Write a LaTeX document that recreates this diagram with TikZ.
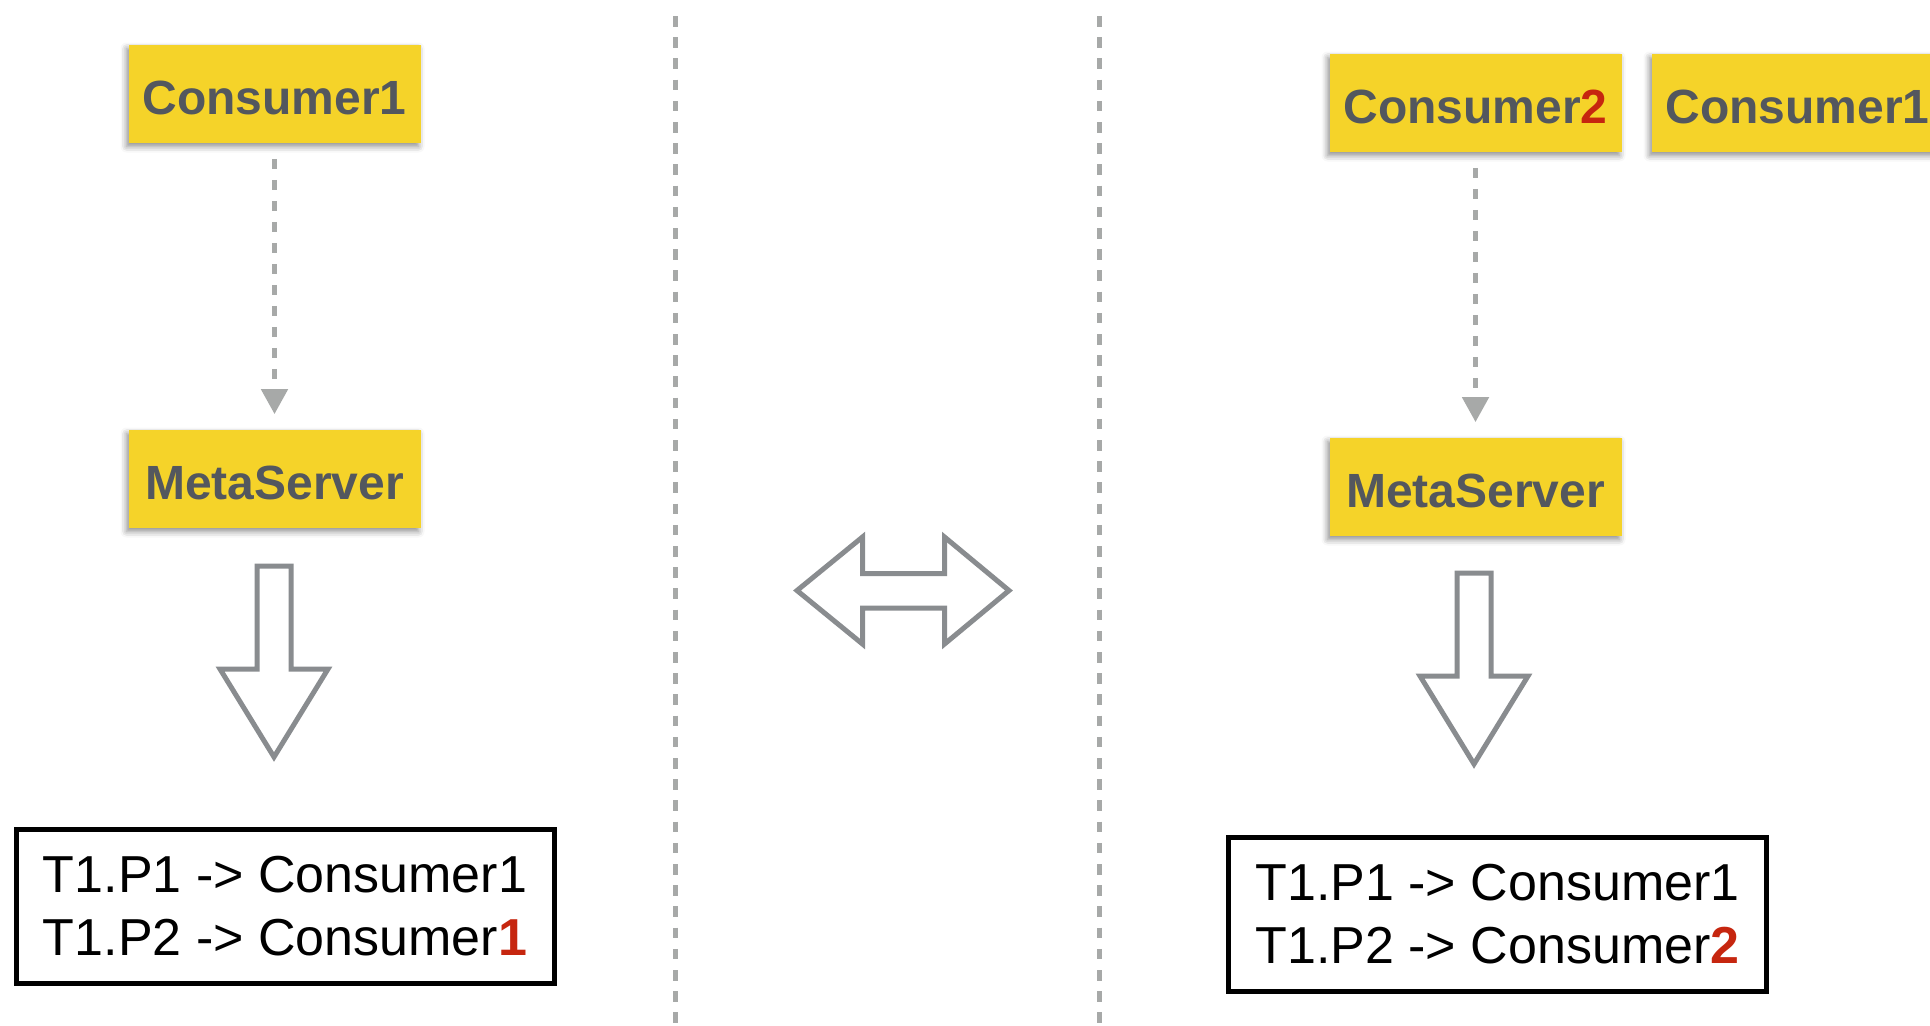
\documentclass[tikz,border=0pt]{standalone}
\usepackage{fontspec}
\setmainfont{Liberation Sans}
\usetikzlibrary{arrows.meta,shadows.blur}

\definecolor{boxyellow}{HTML}{F5D329}
\definecolor{labelgray}{HTML}{53575E}
\definecolor{accent}{HTML}{C6260F}
\definecolor{outlinegray}{HTML}{898C8F}
\definecolor{dashgray}{HTML}{A7A9A8}

\tikzset{
  ybox/.style={fill=boxyellow, minimum width=146pt, minimum height=49pt,
    inner sep=0pt, text=labelgray, text height=21pt, text depth=0pt,
    font=\bfseries\fontsize{24}{28}\selectfont,
    blur shadow={shadow xshift=-1pt, shadow yshift=-2pt,
      shadow blur radius=3pt, shadow opacity=45}},
  mapbox/.style={draw=black, line width=2.5pt, fill=white,
    minimum width=269pt, minimum height=77pt, inner sep=0pt,
    align=left, font=\fontsize{26}{31.5}\selectfont},
  dashconn/.style={draw=dashgray, line width=2.5pt,
    dash pattern=on 5pt off 5.5pt,
    -{Triangle[width=13pt,length=12.5pt]},
    shorten <=8pt, shorten >=7.5pt},
  sepline/.style={draw=dashgray, line width=2.5pt,
    dash pattern=on 5.3pt off 5.3pt},
  blockarrow/.style={draw=outlinegray, line width=2.5pt, fill=white,
    line join=miter},
  downarrow/.pic={
    \draw[blockarrow] (-17,0) -- (17,0) -- (17,103) -- (54,103)
      -- (0,191) -- (-54,103) -- (-17,103) -- cycle;
  }
}

\begin{document}
\begin{tikzpicture}[x=0.5pt,y=-0.5pt]
  \useasboundingbox (0,0) rectangle (1930,1025);

  % column separators
  \draw[sepline] (675,16) -- (675,1025);
  \draw[sepline] (1099,16) -- (1099,1025);

  % left column: a single consumer
  \node[ybox] (c1) at (274.5,93.5) {Consumer1};
  \node[ybox] (ms1) at (274.5,478.5) {MetaServer};
  \draw[dashconn] (c1.south) -- (ms1.north);
  \pic at (274,566) {downarrow};
  \node[mapbox] (map1) at (285,906.5)
    {T1.P1 -> Consumer1\\T1.P2 -> Consumer\textbf{\textcolor{accent}{1}}};

  % middle: transition between both states
  \draw[blockarrow] (797,590.5) -- (862.5,537) -- (862.5,573.5)
    -- (944.5,573.5) -- (944.5,537) -- (1009,590.5) -- (944.5,644)
    -- (944.5,608) -- (862.5,608) -- (862.5,644) -- cycle;

  % right column: a second consumer joins
  \node[ybox] (c2) at (1475.5,102.5) {Consumer\textcolor{accent}{2}};
  \node[ybox] (c1b) at (1797.5,102.5) {Consumer1};
  \node[ybox] (ms2) at (1475.5,486.5) {MetaServer};
  \draw[dashconn] (c2.south) -- (ms2.north);
  \pic at (1474,573) {downarrow};
  \node[mapbox] (map2) at (1497.5,914.5)
    {T1.P1 -> Consumer1\\T1.P2 -> Consumer\textbf{\textcolor{accent}{2}}};
\end{tikzpicture}
\end{document}
